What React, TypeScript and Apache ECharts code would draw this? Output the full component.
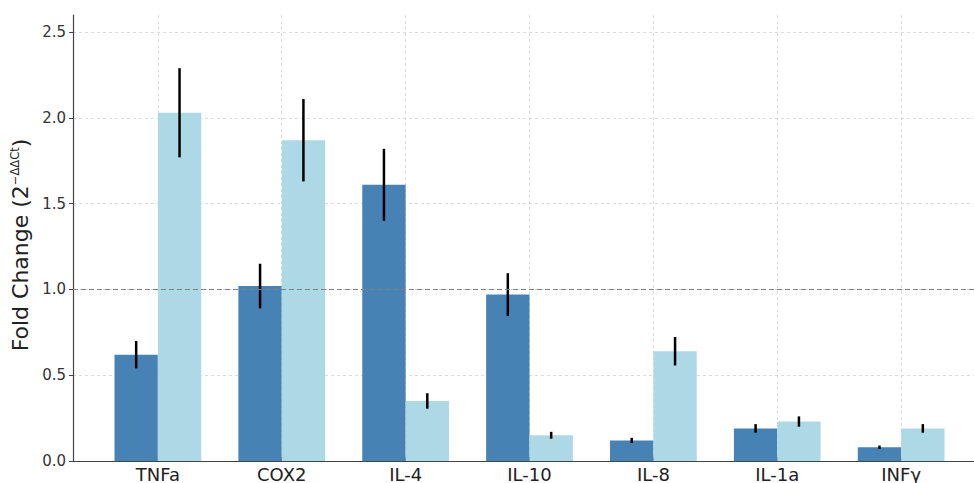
import React, { useEffect, useRef } from "react";
import * as echarts from "echarts";

const categories = ["TNFa", "COX2", "IL-4", "IL-10", "IL-8", "IL-1a", "INFγ"];
const darkValues = [0.62, 1.02, 1.61, 0.97, 0.12, 0.19, 0.08];
const darkErrors = [0.08, 0.13, 0.21, 0.125, 0.015, 0.025, 0.01];
const lightValues = [2.03, 1.87, 0.35, 0.15, 0.64, 0.23, 0.19];
const lightErrors = [0.26, 0.24, 0.045, 0.02, 0.083, 0.03, 0.025];
const yTicks = [0, 0.5, 1.0, 1.5, 2.0, 2.5];
const referenceLevel = 1.0;

const FONT = "DejaVu Sans";
const BAR_W = 0.35;

function makeRender(offset: number, color: string) {
  return (params: any, api: any) => {
    const i = api.value(0);
    const v = api.value(1);
    const e = api.value(2);
    const x0 = i + offset;
    const p0 = api.coord([x0, v]);
    const p1 = api.coord([x0 + BAR_W, 0]);
    const cx = api.coord([x0 + BAR_W / 2, v])[0];
    const top = api.coord([x0, v + e])[1];
    const bot = api.coord([x0, v - e])[1];
    return {
      type: "group",
      children: [
        {
          type: "rect",
          shape: { x: p0[0], y: p0[1], width: p1[0] - p0[0], height: p1[1] - p0[1] },
          style: { fill: color },
        },
        {
          type: "line",
          shape: { x1: cx, y1: top, x2: cx, y2: bot },
          style: { stroke: "#000", lineWidth: 2.5 },
          z2: 10,
        },
      ],
    };
  };
}

export default function App() {
  const ref = useRef<HTMLDivElement>(null);
  useEffect(() => {
    if (!ref.current) return;
    const chart = echarts.init(ref.current, undefined, { renderer: "svg" });
    const idx = categories.map((_, i) => i);
    chart.setOption({
      animation: false,
      backgroundColor: "#fff",
      grid: { left: 73, top: 15, bottom: 21, right: 4, containLabel: false },
      xAxis: {
        type: "value",
        min: -0.685,
        max: 6.685,
        axisLine: { show: true, onZero: false, lineStyle: { color: "#444", width: 1.2 } },
        axisTick: { show: true, inside: true, length: 4, customValues: idx, lineStyle: { color: "#444" } },
        axisLabel: {
          customValues: idx,
          formatter: (v: number) => categories[Math.round(v)] ?? "",
          fontFamily: FONT,
          fontSize: 18,
          color: "#222",
          margin: 4,
        },
        splitLine: { show: true, lineStyle: { color: "#d3d3d3", type: [3, 3], width: 0.8 } },
      },
      yAxis: {
        type: "value",
        min: 0,
        max: 2.6,
        name: "Fold Change (2{sup|−ΔΔCt})",
        nameLocation: "middle",
        nameGap: 31,
        nameRotate: 90,
        nameTextStyle: {
          fontFamily: FONT,
          fontSize: 22,
          color: "#222",
          padding: [0, 14, 0, 0],
          rich: {
            sup: { fontFamily: FONT, fontSize: 11.5, color: "#222", verticalAlign: "top", padding: [0, 0, 10, 0] },
          },
        },
        axisLine: { show: true, onZero: false, lineStyle: { color: "#444", width: 1.2 } },
        axisTick: { show: true, inside: false, length: 4, customValues: yTicks, lineStyle: { color: "#444" } },
        axisLabel: {
          customValues: yTicks,
          formatter: (v: number) => v.toFixed(1),
          fontFamily: FONT,
          fontSize: 15,
          color: "#333",
          margin: 7,
        },
        splitLine: { show: true, lineStyle: { color: "#d3d3d3", type: [3, 3], width: 0.8 } },
      },
      series: [
        {
          type: "custom",
          renderItem: makeRender(-BAR_W, "#4682B4"),
          data: idx.map((i) => [i, darkValues[i], darkErrors[i]]),
          z: 2,
        },
        {
          type: "custom",
          renderItem: makeRender(0, "#ADD8E6"),
          data: idx.map((i) => [i, lightValues[i], lightErrors[i]]),
          z: 2,
        },
        {
          type: "line",
          data: [],
          z: 5,
          markLine: {
            silent: true,
            symbol: "none",
            label: { show: false },
            lineStyle: { color: "#808080", type: [5, 3], width: 1.2 },
            data: [{ yAxis: referenceLevel }],
          },
        },
      ],
    });
    return () => chart.dispose();
  }, []);
  return (
    <div
      ref={ref}
      style={{ position: "fixed", left: 0, top: 0, width: 990, height: 483 }}
    />
  );
}
